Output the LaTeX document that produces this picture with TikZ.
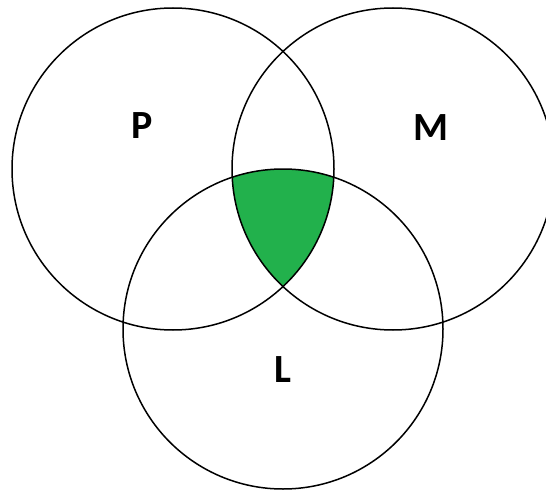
\documentclass[tikz,border=0pt]{standalone}
\usepackage{fontspec}
\setmainfont{Carlito}
\definecolor{vgreen}{RGB}{34,177,76}
\begin{document}
\begin{tikzpicture}[x=1pt,y=-1pt,
  ring/.style={draw=black,line width=1.5pt},
  lab/.style={font=\bfseries\fontsize{40}{40}\selectfont,inner sep=0pt}]
\useasboundingbox (0,0) rectangle (546,492);
\clip (0,0) rectangle (546,492);
\coordinate (cP) at (173,169);
\coordinate (cM) at (393,169);
\coordinate (cL) at (283,329);
\begin{scope}
  \clip (cP) circle[radius=161];
  \clip (cM) circle[radius=161];
  \fill[vgreen] (cL) circle[radius=160];
\end{scope}
\draw[ring] (cP) circle[radius=161];
\draw[ring] (cM) circle[radius=161];
\draw[ring] (cL) circle[radius=160];
\node[lab] (P) at (142,126) {P};
\node[lab] (M) at (431,128) {M};
\node[lab] (L) at (283,370) {L};
\end{tikzpicture}
\end{document}
